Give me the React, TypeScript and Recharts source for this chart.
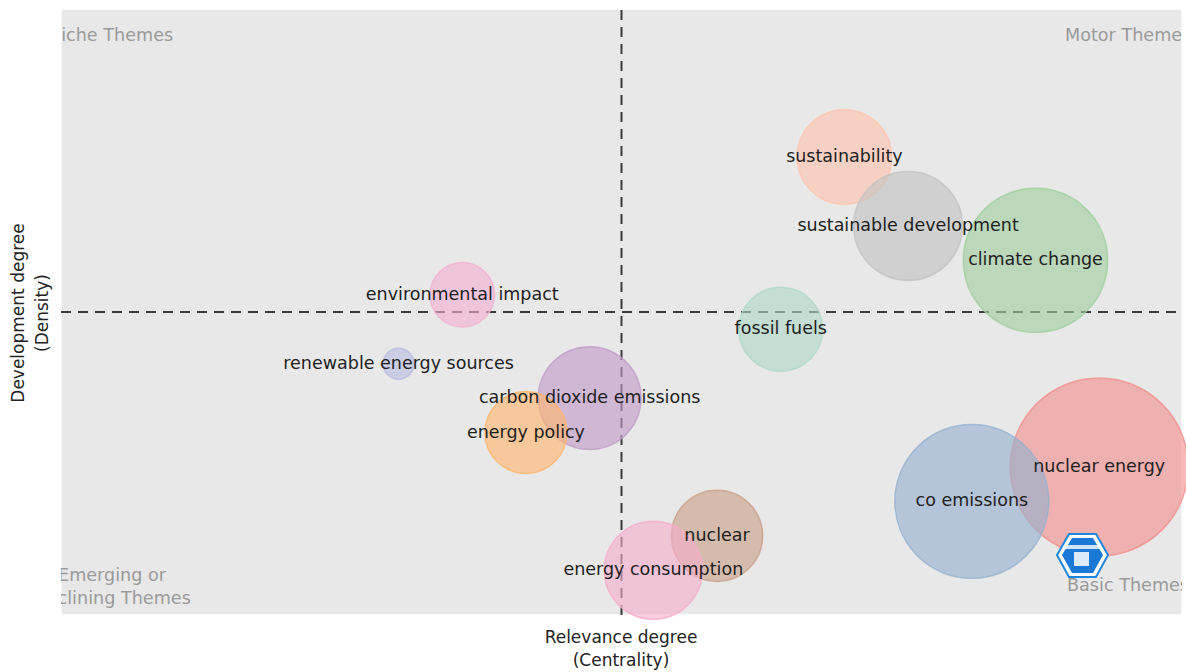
import {
  ScatterChart,
  Scatter,
  XAxis,
  YAxis,
  ZAxis,
  CartesianGrid,
  ReferenceLine,
  Cell,
  LabelList,
} from "recharts";

// Thematic map: clusters ranked by centrality (x) and density (y), bubble = word frequency
const THEMES = [
  "sustainability",
  "sustainable development",
  "climate change",
  "environmental impact",
  "fossil fuels",
  "renewable energy sources",
  "carbon dioxide emissions",
  "energy policy",
  "nuclear energy",
  "co emissions",
  "nuclear",
  "energy consumption",
];
const CENTRALITY = [12, 13, 15, 6, 11, 5, 8, 7, 16, 14, 10, 9];
const DENSITY = [13, 11, 10, 9, 8, 7, 6, 5, 4, 3, 2, 1];
const FREQUENCY = [56, 74, 130, 26, 44, 6, 66, 42, 198, 148, 52, 60];

const GRID_TICKS = [0, 5, 10, 15];
const CENTRALITY_MEDIAN = 8.5;
const DENSITY_MEDIAN = 8.5;

const QUADRANTS = {
  niche: "Niche Themes",
  motor: "Motor Themes",
  emerging: ["Emerging or", "Declining Themes"],
  basic: "Basic Themes",
};

const COLORS = [
  "#ffc4ad",
  "#c2c2c2",
  "#9fcf9f",
  "#f2b0d2",
  "#afd9c8",
  "#b8bde0",
  "#c19bc9",
  "#ffb56c",
  "#f2908c",
  "#94b0d0",
  "#caa088",
  "#f5accb",
];

const data = THEMES.map((name, i) => ({
  name,
  x: CENTRALITY[i],
  y: DENSITY[i],
  z: FREQUENCY[i],
}));

const W = 1186;
const H = 672;
const MARGIN = { top: 9, right: 4, bottom: 57, left: 61 };
const FONT = "'DejaVu Sans', Verdana, sans-serif";

// single-line label centred on the bubble (default LabelList wraps to bubble width)
function BubbleLabel(props: any) {
  const { x, y, width, height, value } = props;
  return (
    <text
      x={x + width / 2}
      y={y + height / 2 - 1}
      textAnchor="middle"
      dominantBaseline="central"
      fill="#1e1e1e"
      fontSize={17.5}
      fontFamily={FONT}
    >
      {value}
    </text>
  );
}

export default function App() {
  const plotW = W - MARGIN.left - MARGIN.right;
  const plotH = H - MARGIN.top - MARGIN.bottom;
  return (
    <div style={{ position: "absolute", left: 0, top: 0, width: W, height: H, background: "#fff" }}>
      <ScatterChart width={W} height={H} margin={MARGIN} style={{ fontFamily: FONT }}>
        <CartesianGrid fill="#e8e8e8" stroke="#ffffff" strokeWidth={1.5} />
        <XAxis
          type="number"
          dataKey="x"
          domain={[-0.3, 17.3]}
          ticks={GRID_TICKS}
          tick={false}
          tickLine={false}
          axisLine={false}
          height={0}
        />
        <YAxis
          type="number"
          dataKey="y"
          domain={[-0.3, 17.3]}
          ticks={GRID_TICKS}
          tick={false}
          tickLine={false}
          axisLine={false}
          width={0}
        />
        <ZAxis type="number" dataKey="z" domain={[0, 200]} range={[0, 200 * 40 * Math.PI]} />
        <ReferenceLine x={CENTRALITY_MEDIAN} stroke="#3a3a3a" strokeWidth={2} strokeDasharray="10 7" />
        <ReferenceLine y={DENSITY_MEDIAN} stroke="#3a3a3a" strokeWidth={2} strokeDasharray="10 7" />
        <Scatter data={data} isAnimationActive={false} fillOpacity={0.62} strokeOpacity={0.8} strokeWidth={1.5}>
          {data.map((d, i) => (
            <Cell key={d.name} fill={COLORS[i]} stroke={COLORS[i]} />
          ))}
          <LabelList dataKey="name" content={<BubbleLabel />} />
        </Scatter>
      </ScatterChart>

      <svg
        width={W}
        height={H}
        style={{ position: "absolute", left: 0, top: 0, pointerEvents: "none", fontFamily: FONT }}
      >
        <defs>
          <clipPath id="plotClip">
            <rect x={MARGIN.left} y={MARGIN.top} width={plotW} height={plotH} />
          </clipPath>
        </defs>
        <g clipPath="url(#plotClip)" fill="#9a9a9a" fontSize={17.6}>
          <text x={48} y={41}>{QUADRANTS.niche}</text>
          <text x={1065} y={41}>{QUADRANTS.motor}</text>
          <text x={112} y={581} textAnchor="middle">{QUADRANTS.emerging[0]}</text>
          <text x={112} y={604} textAnchor="middle">{QUADRANTS.emerging[1]}</text>
          <text x={1067} y={591}>{QUADRANTS.basic}</text>
        </g>

        {/* watermark logo */}
        <g>
          <polygon
            points="1057,555 1069,534 1096,534 1108,555 1096,577 1069,577"
            fill="#ffffff"
            stroke="#1f86e0"
            strokeWidth={2}
          />
          <polygon points="1062,555 1072,538 1093,538 1103,555 1093,573 1072,573" fill="#1a78d6" />
          <rect x={1064} y={545} width={37} height={4} fill="#ffffff" opacity={0.8} />
          <rect x={1074} y={552} width={15} height={14} fill="#ffffff" opacity={0.85} />
        </g>

        <g fill="#222" fontSize={17}>
          <text x={621} y={643} textAnchor="middle">Relevance degree</text>
          <text x={621} y={666} textAnchor="middle">(Centrality)</text>
          <text x={24} y={313} textAnchor="middle" transform="rotate(-90 24 313)">
            Development degree
          </text>
          <text x={48} y={313} textAnchor="middle" transform="rotate(-90 48 313)">
            (Density)
          </text>
        </g>
      </svg>
    </div>
  );
}
